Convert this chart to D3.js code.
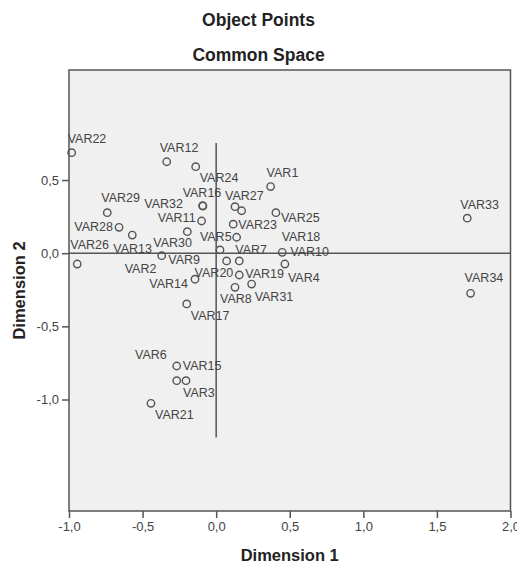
<!DOCTYPE html>
<html>
<head>
<meta charset="utf-8">
<script src="https://cdn.jsdelivr.net/npm/d3@7"></script>
<style>
  body { margin: 0; background: #fff; }
  svg text { font-family: "Liberation Sans", Arial, sans-serif; }
</style>
</head>
<body>
<div id="chart"></div>
<script>
// object points, common space (dimension 1 / dimension 2)
const names = ['VAR1','VAR2','VAR3','VAR4','VAR5','VAR6','VAR7','VAR8','VAR9','VAR10',
  'VAR11','VAR12','VAR13','VAR14','VAR15','VAR16','VAR17','VAR18','VAR19','VAR20',
  'VAR21','VAR22','VAR23','VAR24','VAR25','VAR26','VAR27','VAR28','VAR29','VAR30',
  'VAR31','VAR32','VAR33','VAR34'];
const dim1 = [0.370,-0.370,-0.205,0.467,0.139,-0.268,0.157,0.128,0.026,0.449,
  -0.099,-0.336,-0.570,-0.144,-0.268,-0.092,-0.200,0.173,0.157,0.071,
  -0.443,-0.982,0.116,-0.139,0.406,-0.944,0.128,-0.660,-0.740,-0.196,
  0.241,-0.090,1.706,1.729];
const dim2 = [0.455,-0.017,-0.871,-0.074,0.109,-0.771,-0.053,-0.233,0.022,0.006,
  0.220,0.625,0.124,-0.178,-0.871,0.325,-0.347,0.290,-0.149,-0.053,
  -1.026,0.687,0.198,0.591,0.277,-0.074,0.318,0.177,0.277,0.147,
  -0.211,0.322,0.239,-0.274];
const xTicks = [-1, -0.5, 0, 0.5, 1, 1.5, 2];
const yTicks = [-1, -0.5, 0, 0.5];

// label placement next to each point: [dx, dy, anchor] (layout only)
const labelPlace = [[-4,-14,'start'],[-37,13,'start'],[-3,12,'start'],[3,14,'start'],[-5,0,'end'],
  [-10,-11,'end'],[-4,-11,'start'],[-15,12,'start'],[-20,10,'end'],[8,0,'start'],
  [-6,-3,'end'],[-7,-14,'start'],[-19,14,'start'],[-7,5,'end'],[6,-15,'start'],
  [-20,-13,'start'],[4,12,'start'],[40,26,'start'],[6,-1,'start'],[-32,12,'start'],
  [4,12,'start'],[-4,-14,'start'],[5,1,'start'],[4,11,'start'],[5,5,'start'],
  [-7,-19,'start'],[-10,-11,'start'],[-6,0,'end'],[-6,-15,'start'],[-34,11,'start'],
  [3,13,'start'],[-20,-2,'end'],[-7,-13,'start'],[-6,-15,'start']];

const points = names.map((n, i) => ({name: n, x: dim1[i], y: dim2[i], lp: labelPlace[i]}));

const width = 517, height = 567;
const margin = {top: 70, right: 6.5, bottom: 56, left: 69};

const svg = d3.select('#chart').append('svg')
  .attr('width', width)
  .attr('height', height);

const x = d3.scaleLinear().domain([-1, 2]).range([margin.left, width - margin.right]);
const y = d3.scaleLinear().domain([-1.762, 1.252]).range([height - margin.bottom, margin.top]);

const loc = d3.formatLocale({decimal: ',', thousands: '.', grouping: [3], currency: ['', ''], minus: '-'});
const fmt = loc.format('.1f');

// titles
svg.append('text')
  .attr('x', width / 2).attr('y', 20)
  .attr('text-anchor', 'middle').attr('dominant-baseline', 'central')
  .attr('font-size', '17.5px').attr('font-weight', 'bold').attr('fill', '#222')
  .text('Object Points');
svg.append('text')
  .attr('x', width / 2).attr('y', 55)
  .attr('text-anchor', 'middle').attr('dominant-baseline', 'central')
  .attr('font-size', '17.5px').attr('font-weight', 'bold').attr('fill', '#222')
  .text('Common Space');

// plot background
svg.append('rect')
  .attr('x', margin.left).attr('y', margin.top)
  .attr('width', width - margin.left - margin.right)
  .attr('height', height - margin.top - margin.bottom)
  .attr('fill', '#f0f0f0');

// reference lines through the origin
svg.append('line')
  .attr('x1', x(-1)).attr('x2', x(2))
  .attr('y1', y(0)).attr('y2', y(0))
  .attr('stroke', '#555').attr('stroke-width', 1.5);
svg.append('line')
  .attr('x1', x(0)).attr('x2', x(0))
  .attr('y1', y(0.753)).attr('y2', y(-1.259))
  .attr('stroke', '#555').attr('stroke-width', 1.5);

// axes
const xAxis = svg.append('g')
  .attr('transform', 'translate(0,' + (height - margin.bottom) + ')')
  .call(d3.axisBottom(x).tickValues(xTicks).tickFormat(fmt).tickSize(7).tickPadding(4).tickSizeOuter(0));
const yAxis = svg.append('g')
  .attr('transform', 'translate(' + margin.left + ',0)')
  .call(d3.axisLeft(y).tickValues(yTicks).tickFormat(fmt).tickSize(7).tickPadding(3).tickSizeOuter(0));
[xAxis, yAxis].forEach(a => {
  a.select('.domain').remove();
  a.selectAll('.tick line').attr('stroke', '#555').attr('stroke-width', 1.5);
  a.selectAll('.tick text').attr('fill', '#444').attr('font-size', '13px')
    .attr('font-family', '"Liberation Sans", Arial, sans-serif');
});

// frame
svg.append('rect')
  .attr('x', margin.left).attr('y', margin.top)
  .attr('width', width - margin.left - margin.right)
  .attr('height', height - margin.top - margin.bottom)
  .attr('fill', 'none').attr('stroke', '#555').attr('stroke-width', 1.5);

// axis titles
svg.append('text')
  .attr('x', (margin.left + width - margin.right) / 2).attr('y', 555)
  .attr('text-anchor', 'middle').attr('dominant-baseline', 'central')
  .attr('font-size', '16.5px').attr('font-weight', 'bold').attr('fill', '#222')
  .text('Dimension 1');
svg.append('text')
  .attr('transform', 'translate(19,' + ((margin.top + height - margin.bottom) / 2) + ') rotate(-90)')
  .attr('text-anchor', 'middle').attr('dominant-baseline', 'central')
  .attr('font-size', '16.5px').attr('font-weight', 'bold').attr('fill', '#222')
  .text('Dimension 2');

// points
const g = svg.append('g');
g.selectAll('circle')
  .data(points)
  .enter()
  .append('circle')
  .attr('cx', d => x(d.x))
  .attr('cy', d => y(d.y))
  .attr('r', 3.7)
  .attr('fill', 'none')
  .attr('stroke', '#555')
  .attr('stroke-width', 1.4);

g.selectAll('text.lbl')
  .data(points)
  .enter()
  .append('text')
  .attr('class', 'lbl')
  .attr('x', d => x(d.x) + d.lp[0])
  .attr('y', d => y(d.y) + d.lp[1])
  .attr('text-anchor', d => d.lp[2])
  .attr('dominant-baseline', 'central')
  .attr('font-size', '12.5px')
  .attr('fill', '#444')
  .text(d => d.name);
</script>
</body>
</html>
